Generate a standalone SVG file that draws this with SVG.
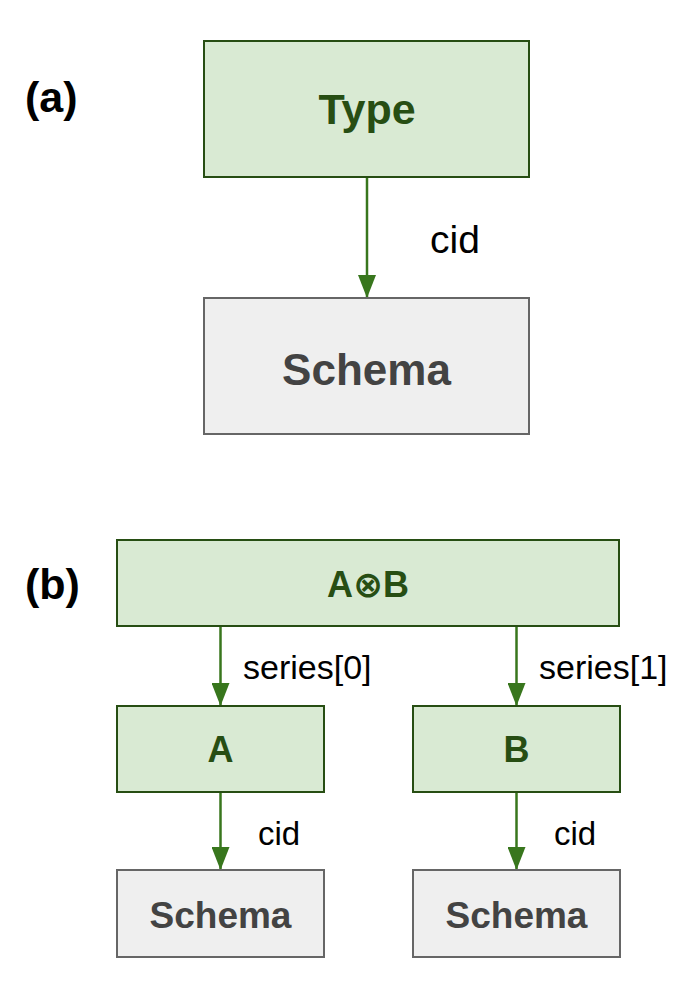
<svg xmlns="http://www.w3.org/2000/svg" width="700" height="998" viewBox="0 0 700 998">
  <style>
    .green rect { fill: #d9ead3; stroke: #274e13; stroke-width: 2; }
    .green text { fill: #274e13; font-family: "Liberation Sans", Arial, "DejaVu Sans", sans-serif; font-weight: bold; text-anchor: middle; }
    .grey rect { fill: #efefef; stroke: #666666; stroke-width: 2; }
    .grey text { fill: #434343; font-family: "Liberation Sans", Arial, sans-serif; font-weight: bold; text-anchor: middle; }
    .lbl { fill: #000000; font-family: "Liberation Sans", Arial, sans-serif; }
    .panel { fill: #000000; font-family: "Liberation Sans", Arial, sans-serif; font-weight: bold; font-size: 43px; }
    .edge { stroke: #38761d; stroke-width: 2.5; fill: none; marker-end: url(#arrow); }
  </style>
  <defs>
    <marker id="arrow" viewBox="0 0 23 18" refX="23" refY="9" markerWidth="23" markerHeight="18" markerUnits="userSpaceOnUse" orient="auto">
      <path d="M0,0 L23,9 L0,18 z" fill="#38761d"/>
    </marker>
  </defs>
  <rect width="700" height="998" fill="#ffffff"/>

  <text class="panel" x="25" y="112">(a)</text>
  <text class="panel" x="25" y="599">(b)</text>

  <g id="connectors">
    <line class="edge" x1="367" y1="177" x2="367" y2="298"/>
    <line class="edge" x1="220.5" y1="626" x2="220.5" y2="706"/>
    <line class="edge" x1="516.5" y1="626" x2="516.5" y2="706"/>
    <line class="edge" x1="220.5" y1="792" x2="220.5" y2="870"/>
    <line class="edge" x1="516.5" y1="792" x2="516.5" y2="870"/>
    <text class="lbl" x="430" y="253" font-size="39">cid</text>
    <text class="lbl" x="243" y="679" font-size="34">series[0]</text>
    <text class="lbl" x="539" y="679" font-size="34">series[1]</text>
    <text class="lbl" x="258" y="845" font-size="33">cid</text>
    <text class="lbl" x="554" y="845" font-size="33">cid</text>
  </g>

  <g id="type" class="green">
    <rect x="204" y="41" width="325" height="136"/>
    <text x="367" y="124" font-size="43">Type</text>
  </g>
  <g id="schema-a" class="grey">
    <rect x="204" y="298" width="325" height="136"/>
    <text x="366.5" y="385" font-size="44">Schema</text>
  </g>

  <g id="aob" class="green">
    <rect x="117" y="540" width="502" height="86"/>
    <text x="368" y="597" font-size="36">A⊗B</text>
  </g>
  <g id="a" class="green">
    <rect x="117" y="706" width="207" height="86"/>
    <text x="220.5" y="762" font-size="36">A</text>
  </g>
  <g id="b" class="green">
    <rect x="413" y="706" width="207" height="86"/>
    <text x="516.5" y="762" font-size="36">B</text>
  </g>
  <g id="schema-a-child" class="grey">
    <rect x="117" y="870" width="207" height="87"/>
    <text x="220.5" y="928" font-size="37">Schema</text>
  </g>
  <g id="schema-b-child" class="grey">
    <rect x="413" y="870" width="207" height="87"/>
    <text x="516.5" y="928" font-size="37">Schema</text>
  </g>
</svg>
